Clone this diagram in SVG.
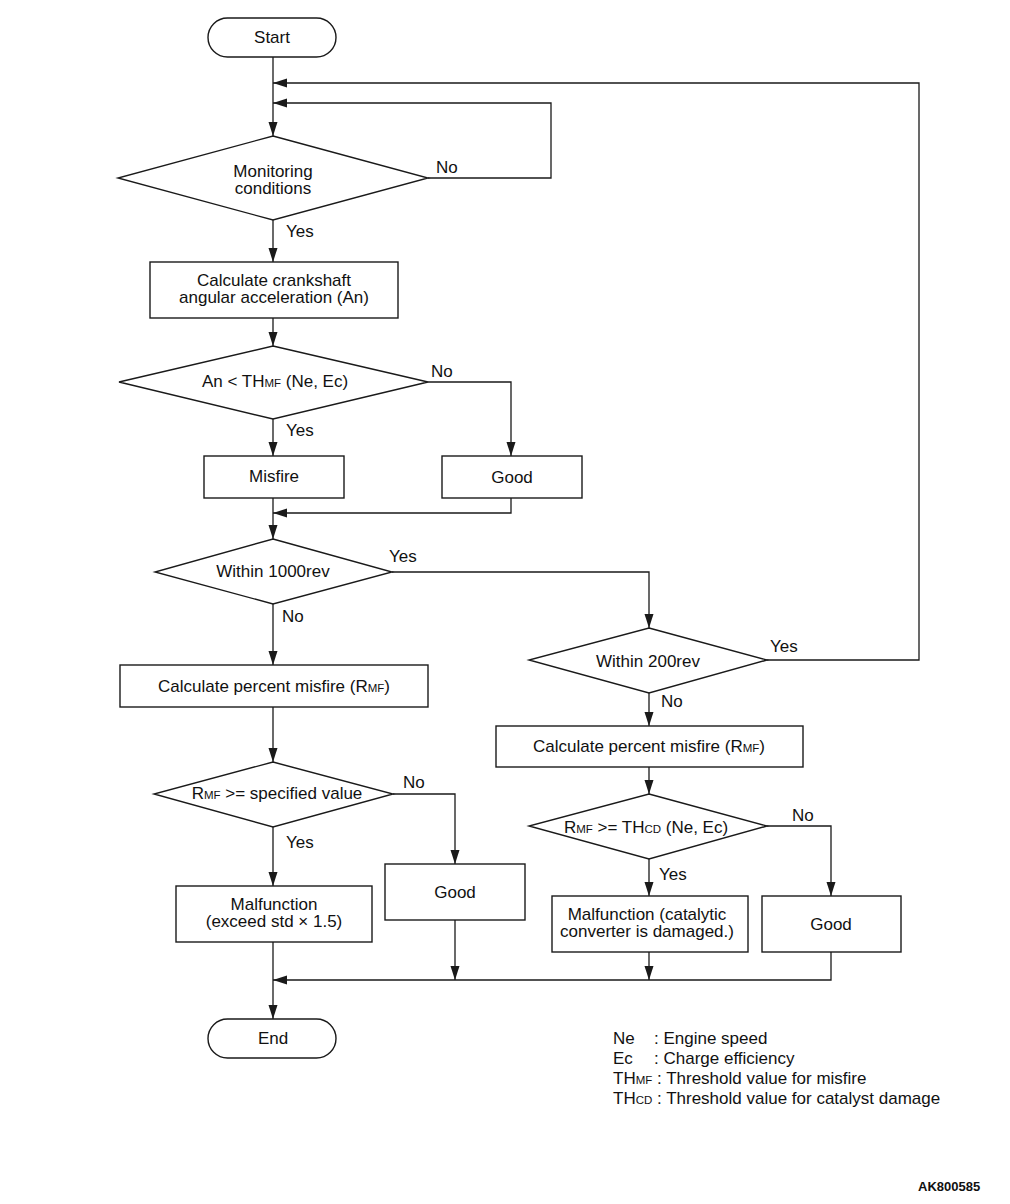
<svg xmlns="http://www.w3.org/2000/svg" width="1010" height="1204" viewBox="0 0 1010 1204">
<defs>
<marker id="ah" markerUnits="userSpaceOnUse" markerWidth="15" markerHeight="10" refX="14" refY="4.5" orient="auto">
<path d="M0,0 L14,4.5 L0,9 z" fill="#1a1a1a"/>
</marker>
<style>
.n{fill:#fff;stroke:#1a1a1a;stroke-width:1.4}
.t{font-family:"Liberation Sans",Arial,sans-serif;font-size:17px;fill:#111;text-anchor:middle}
.l{font-family:"Liberation Sans",Arial,sans-serif;font-size:17px;fill:#111}
.s{font-size:11.5px}
.c{fill:none;stroke:#1a1a1a;stroke-width:1.3;marker-end:url(#ah)}
</style>
</defs>
<rect width="1010" height="1204" fill="#fff"/>
<g id="connectors">
<path class="c" d="M273 57 V136"/>
<path class="c" d="M767 660 H919 V83 H273"/>
<path class="c" d="M428 178 H551 V103 H273"/>
<path class="c" d="M273 220 V262"/>
<path class="c" d="M273 318 V346"/>
<path class="c" d="M273 419 V456"/>
<path class="c" d="M428 382 H511 V456"/>
<path class="c" d="M273 498 V539"/>
<path class="c" d="M511 498 V513 H273"/>
<path class="c" d="M392 572 H649 V628"/>
<path class="c" d="M273 604 V665"/>
<path class="c" d="M273 707 V762"/>
<path class="c" d="M393 794 H455 V864"/>
<path class="c" d="M273 827 V886"/>
<path class="c" d="M273 942 V1019"/>
<path class="c" d="M455 920 V980"/>
<path class="c" d="M831 952 V980 H273"/>
<path class="c" d="M649 952 V980"/>
<path class="c" d="M649 693 V726"/>
<path class="c" d="M649 767 V794"/>
<path class="c" d="M767 826 H831 V896"/>
<path class="c" d="M649 859 V896"/>
<text class="l" x="436" y="173">No</text>
<text class="l" x="286" y="237">Yes</text>
<text class="l" x="431" y="377">No</text>
<text class="l" x="286" y="436">Yes</text>
<text class="l" x="389" y="562">Yes</text>
<text class="l" x="282" y="622">No</text>
<text class="l" x="403" y="788">No</text>
<text class="l" x="286" y="848">Yes</text>
<text class="l" x="770" y="652">Yes</text>
<text class="l" x="661" y="707">No</text>
<text class="l" x="792" y="821">No</text>
<text class="l" x="659" y="880">Yes</text>
</g>
<g id="start"><rect class="n" x="208" y="18" width="128" height="39" rx="19.5"/><text class="t" x="272" y="43">Start</text></g>
<g id="monitoring"><polygon class="n" points="273,136 428,178 273,220 118,178"/><text class="t" x="273" y="177">Monitoring</text><text class="t" x="273" y="194">conditions</text></g>
<g id="calc-accel"><rect class="n" x="150" y="262" width="248" height="56"/><text class="t" x="274" y="286">Calculate crankshaft</text><text class="t" x="274" y="303">angular acceleration (An)</text></g>
<g id="an-check"><polygon class="n" points="273,346 428,382 273,419 119,382"/><text class="t" x="275" y="387">An &lt; TH<tspan class="s">MF</tspan> (Ne, Ec)</text></g>
<g id="misfire"><rect class="n" x="204" y="456" width="140" height="42"/><text class="t" x="274" y="482">Misfire</text></g>
<g id="good1"><rect class="n" x="442" y="456" width="140" height="42"/><text class="t" x="512" y="483">Good</text></g>
<g id="within1000"><polygon class="n" points="273,539 392,572 273,604 155,572"/><text class="t" x="273" y="577">Within 1000rev</text></g>
<g id="calc-pct-left"><rect class="n" x="120" y="665" width="308" height="42"/><text class="t" x="274" y="692">Calculate percent misfire (R<tspan class="s">MF</tspan>)</text></g>
<g id="spec-check"><polygon class="n" points="273,762 393,794 273,827 154,794"/><text class="t" x="277" y="799">R<tspan class="s">MF</tspan> &gt;= specified value</text></g>
<g id="malf-left"><rect class="n" x="176" y="886" width="196" height="56"/><text class="t" x="274" y="910">Malfunction</text><text class="t" x="274" y="927">(exceed std × 1.5)</text></g>
<g id="good2"><rect class="n" x="385" y="864" width="140" height="56"/><text class="t" x="455" y="898">Good</text></g>
<g id="end"><rect class="n" x="208" y="1019" width="128" height="39" rx="19.5"/><text class="t" x="273" y="1044">End</text></g>
<g id="within200"><polygon class="n" points="649,628 767,660 649,693 529,660"/><text class="t" x="648" y="667">Within 200rev</text></g>
<g id="calc-pct-right"><rect class="n" x="496" y="726" width="307" height="41"/><text class="t" x="649" y="752">Calculate percent misfire (R<tspan class="s">MF</tspan>)</text></g>
<g id="thcd-check"><polygon class="n" points="649,794 767,826 649,859 529,826"/><text class="t" x="646" y="833">R<tspan class="s">MF</tspan> &gt;= TH<tspan class="s">CD</tspan> (Ne, Ec)</text></g>
<g id="malf-right"><rect class="n" x="552" y="896" width="196" height="56"/><text class="t" x="647" y="920">Malfunction (catalytic</text><text class="t" x="647" y="937">converter is damaged.)</text></g>
<g id="good3"><rect class="n" x="762" y="896" width="139" height="56"/><text class="t" x="831" y="930">Good</text></g>
<g id="legend">
<text class="l" x="613" y="1044">Ne</text><text class="l" x="654" y="1044">: Engine speed</text>
<text class="l" x="613" y="1064">Ec</text><text class="l" x="654" y="1064">: Charge efficiency</text>
<text class="l" x="613" y="1084">TH<tspan class="s">MF</tspan> : Threshold value for misfire</text>
<text class="l" x="613" y="1104">TH<tspan class="s">CD</tspan> : Threshold value for catalyst damage</text>
</g>
<text x="918" y="1191" style="font-family:'Liberation Sans',Arial,sans-serif;font-size:13px;font-weight:bold;fill:#111">AK800585</text>
</svg>
